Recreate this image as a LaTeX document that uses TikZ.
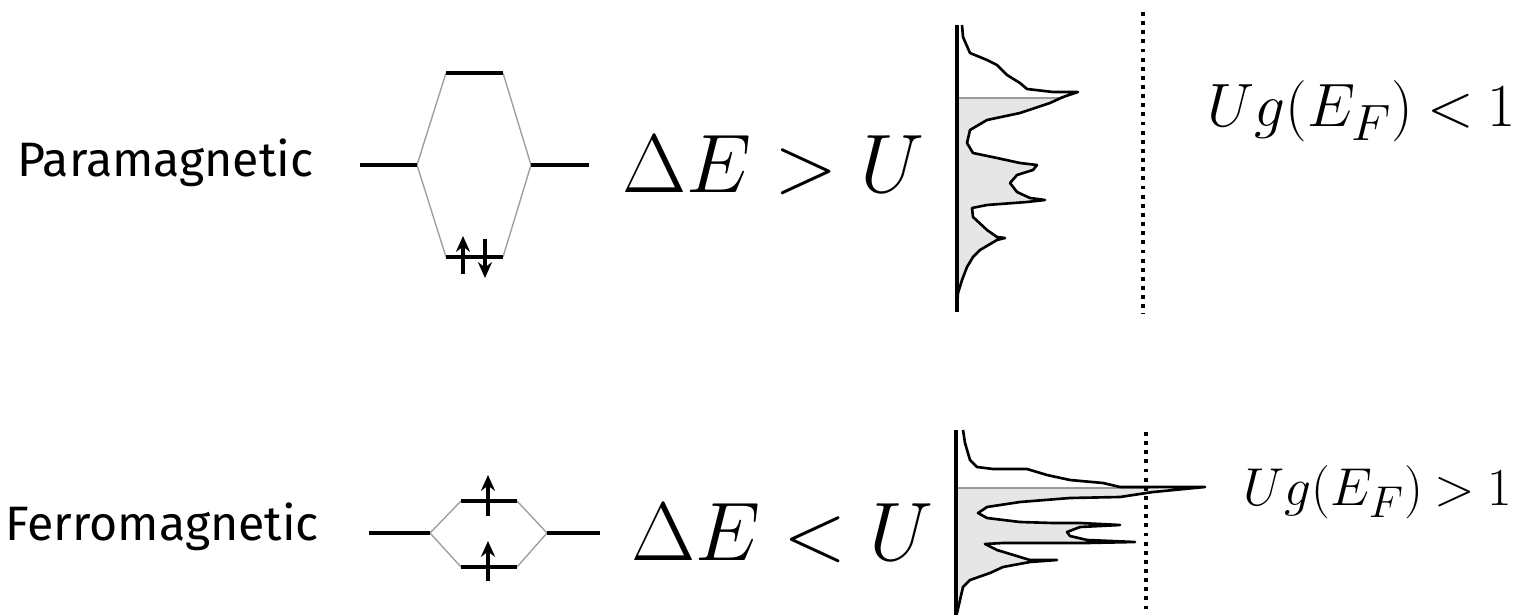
\documentclass[tikz,border=0pt]{standalone}
\usepackage{graphicx}
\usepackage{fontspec}
\usetikzlibrary{arrows.meta}
\newfontfamily\labfont{Fira Sans}
\definecolor{dosfill}{HTML}{E6E6E6}
\definecolor{fermigrey}{HTML}{9A9A9A}
\definecolor{moline}{HTML}{A0A0A0}
\tikzset{
  level/.style={line width=2pt, black},
  mocon/.style={line width=0.8pt, moline},
  spin/.style={line width=2pt, -{Stealth[length=9pt,width=8pt]}},
  axisline/.style={line width=1.8pt, black},
  dosline/.style={line width=1.5pt, black, line join=round},
  fermi/.style={line width=1.3pt, fermigrey},
  dotline/.style={line width=2.2pt, black, dash pattern=on 2.2pt off 3pt},
  lab/.style={inner sep=0pt, anchor=base west, font=\labfont\fontsize{27.5}{32}\selectfont},
  mathlab/.style={inner sep=0pt, anchor=base west, font=\Huge}
}
\begin{document}
\begin{tikzpicture}[x=0.02cm, y=-0.02cm]
\useasboundingbox (0,0) rectangle (1521,615);

% ---------------- Paramagnetic ----------------
\node[lab] (para) at (17,176) {Paramagnetic};
\coordinate (pL1) at (360,165); \coordinate (pL2) at (417,165);
\coordinate (pT1) at (446,73);  \coordinate (pT2) at (503,73);
\coordinate (pB1) at (446,257); \coordinate (pB2) at (503,257);
\coordinate (pR1) at (531,165); \coordinate (pR2) at (589,165);
\draw[mocon] (pL2) -- (pT1) (pT2) -- (pR1) -- (pB2) (pB1) -- (pL2);
\draw[level] (pL1) -- (pL2) (pT1) -- (pT2) (pB1) -- (pB2) (pR1) -- (pR2);
\coordinate (pu1) at (463,274); \coordinate (pu2) at (463,236);
\coordinate (pd1) at (485,239); \coordinate (pd2) at (485,278);
\draw[spin] (pu1) -- (pu2);
\draw[spin] (pd1) -- (pd2);

\node[mathlab] (dEgt) at (622,192) {\scalebox{1.9}{$\Delta E\mkern5mu\mathord{>}\mkern5mu U$}};

% DOS top
\fill[dosfill] (957,98) -- (1063,98) -- (1050,103) -- (1020,113) -- (987,120) -- (970,130) -- (967,143) -- (973,153) -- (997,158) -- (1020,163) -- (1037,165) -- (1033,170) -- (1017,175) -- (1010,183) -- (1017,192) -- (1030,198) -- (1045,200) -- (1027,202) -- (987,205) -- (972,208) -- (973,217) -- (987,230) -- (997,237) -- (1005,238) -- (997,240) -- (980,250) -- (973,257) -- (967,267) -- (962,280) -- (958,293) -- (957,307) -- cycle;
\draw[fermi] (957,98) -- (1064,98);
\draw[dosline] (962,25) -- (963,37) -- (970,53) -- (987,60) -- (997,65) -- (1007,75) -- (1020,83) -- (1027,89) -- (1053,92) -- (1078,92) -- (1063,97) -- (1050,103) -- (1020,113) -- (987,120) -- (970,130) -- (967,143) -- (973,153) -- (997,158) -- (1020,163) -- (1037,165) -- (1033,170) -- (1017,175) -- (1010,183) -- (1017,192) -- (1030,198) -- (1045,200) -- (1027,202) -- (987,205) -- (972,208) -- (973,217) -- (987,230) -- (997,237) -- (1005,238) -- (997,240) -- (980,250) -- (973,257) -- (967,267) -- (962,280) -- (958,293) -- (957,307);
\coordinate (ax1t) at (957,25); \coordinate (ax1b) at (957,312);
\draw[axisline] (ax1t) -- (ax1b);
\coordinate (dt1) at (1143,12); \coordinate (dt2) at (1143,314);
\draw[dotline] (dt1) -- (dt2);

\node[mathlab] (ugl) at (1207,127) {\scalebox{1.4}{$Ug(E_F)\mkern4mu\mathord{<}\mkern4mu 1$}};

% ---------------- Ferromagnetic ----------------
\node[lab] (ferro) at (5,540) {Ferromagnetic};
\coordinate (fL1) at (369,533); \coordinate (fL2) at (430,533);
\coordinate (fT1) at (461,501); \coordinate (fT2) at (517,501);
\coordinate (fB1) at (461,567); \coordinate (fB2) at (517,567);
\coordinate (fR1) at (547,533); \coordinate (fR2) at (600,533);
\draw[mocon] (fL2) -- (fT1) (fT2) -- (fR1) -- (fB2) (fB1) -- (fL2);
\draw[level] (fL1) -- (fL2) (fT1) -- (fT2) (fB1) -- (fB2) (fR1) -- (fR2);
\coordinate (fu1) at (488,516); \coordinate (fu2) at (488,475);
\coordinate (fv1) at (488,581); \coordinate (fv2) at (488,541);
\draw[spin] (fu1) -- (fu2);
\draw[spin] (fv1) -- (fv2);

\node[mathlab] (dElt) at (631,560) {\scalebox{1.9}{$\Delta E\mkern5mu\mathord{<}\mkern5mu U$}};

% DOS bottom
\fill[dosfill] (956,488) -- (1160,488) -- (1153,492) -- (1120,497) -- (1070,498) -- (1020,502) -- (987,507) -- (978,513) -- (987,518) -- (1020,522) -- (1053,523) -- (1080,523) -- (1120,525) -- (1080,527) -- (1067,532) -- (1070,536) -- (1087,540) -- (1135,542) -- (1087,543) -- (1037,543) -- (1003,543) -- (985,544) -- (997,550) -- (1020,557) -- (1030,560) -- (1057,560) -- (1030,562) -- (1003,567) -- (990,573) -- (970,580) -- (963,587) -- (960,600) -- (957,613) -- cycle;
\draw[fermi] (956,488) -- (1150,488);
\draw[dosline] (963,430) -- (965,443) -- (970,460) -- (977,467) -- (993,469) -- (1027,469) -- (1047,475) -- (1070,480) -- (1103,483) -- (1120,487) -- (1153,487) -- (1205,487) -- (1153,492) -- (1120,497) -- (1070,498) -- (1020,502) -- (987,507) -- (978,513) -- (987,518) -- (1020,522) -- (1053,523) -- (1080,523) -- (1120,525) -- (1080,527) -- (1067,532) -- (1070,536) -- (1087,540) -- (1135,542) -- (1087,543) -- (1037,543) -- (1003,543) -- (985,544) -- (997,550) -- (1020,557) -- (1030,560) -- (1057,560) -- (1030,562) -- (1003,567) -- (990,573) -- (970,580) -- (963,587) -- (960,600) -- (957,613);
\coordinate (ax2t) at (956,430); \coordinate (ax2b) at (956,615);
\draw[axisline] (ax2t) -- (ax2b);
\coordinate (db1) at (1146,432); \coordinate (db2) at (1146,615);
\draw[dotline] (db1) -- (db2);

\node[mathlab] (ugg) at (1243,505) {\scalebox{1.22}{$Ug(E_F)\mkern4mu\mathord{>}\mkern4mu 1$}};
\end{tikzpicture}
\end{document}
